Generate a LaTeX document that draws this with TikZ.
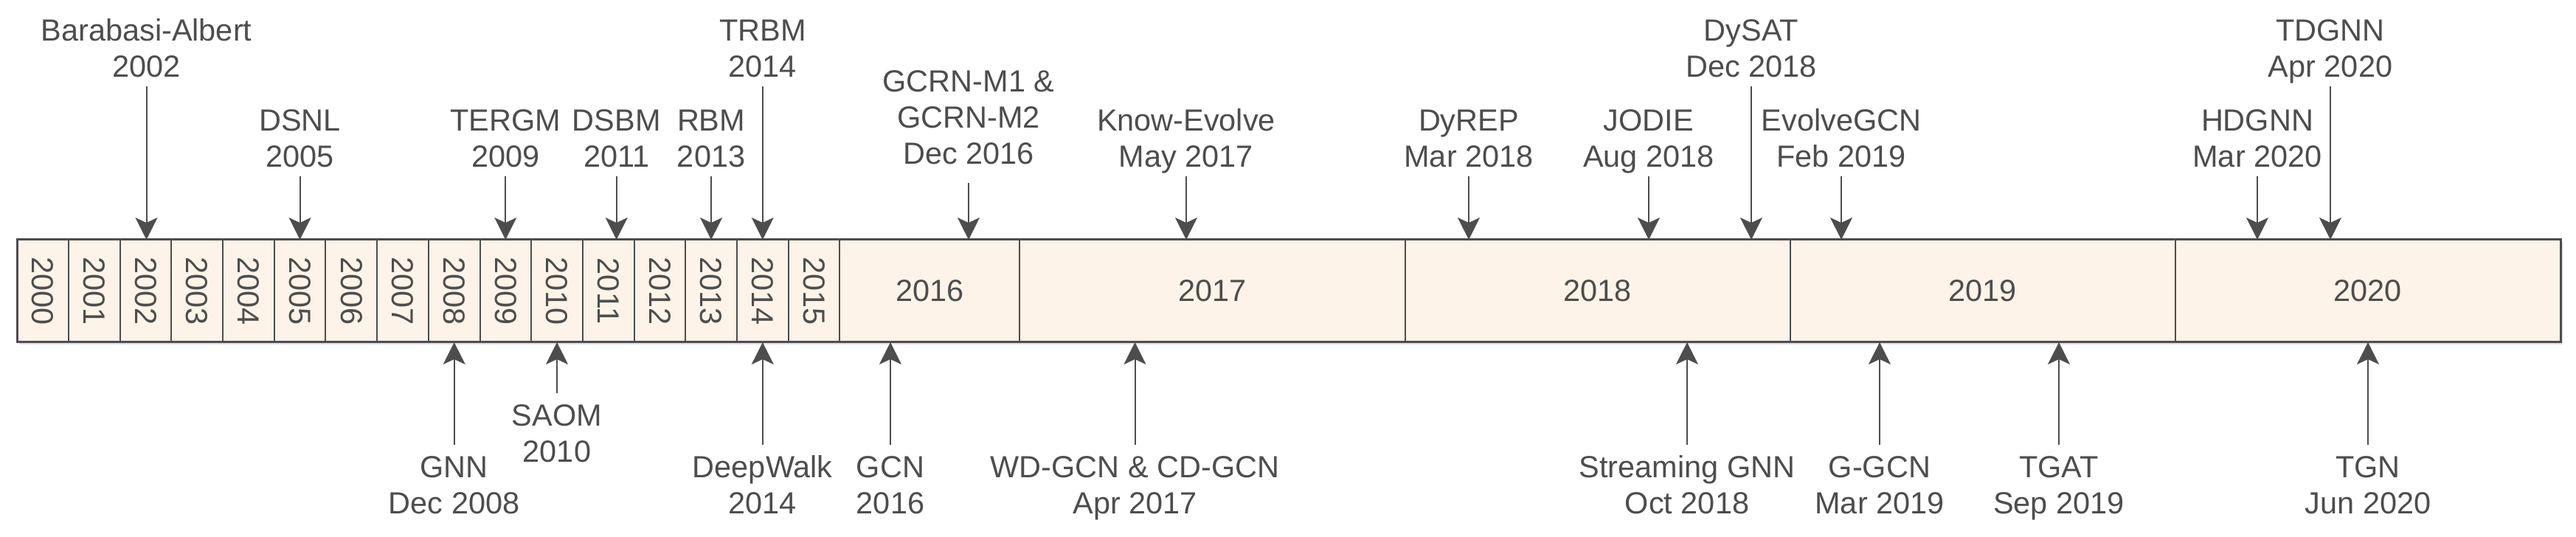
\documentclass[tikz,border=0pt]{standalone}
\usepackage{fontspec}
\setmainfont{Liberation Sans}
\usetikzlibrary{arrows.meta}

\definecolor{linegray}{HTML}{4D4D4D}
\definecolor{cellfill}{HTML}{FEF3E8}

\begin{document}
\begin{tikzpicture}[
  yr/.style={draw=linegray, line width=0.2mm, fill=cellfill, text=linegray, inner sep=0pt, outer sep=0pt, font=\fontsize{11.8}{14}\selectfont},
  vyr/.style={yr, rotate=-90, minimum width=1.39cm, minimum height=6.969mm},
  bigyr/.style={yr, minimum width=5.2218cm, minimum height=1.39cm},
  evt/.style={font=\fontsize{11.8}{13.94}\selectfont, text=linegray, align=center, inner sep=0pt, anchor=base},
  evtup/.style={evt, text depth=1.2mm},
  evtdown/.style={evt, text height=9.25mm},
  arr/.style={-{Stealth[length=3mm, width=3mm, inset=0.7mm]}, line width=0.2mm, draw=linegray}
]
\useasboundingbox (0,0) rectangle (34.92,7.28);

% timeline bar
\fill[black!12] (0.263,2.61) rectangle (34.74,4.0);
\foreach \yy [count=\i from 0] in {2000,...,2015}
  \node[vyr] (c\yy) at ({0.233+0.6969*(\i+0.5)},3.335) {\yy};
\node[yr, minimum width=2.44cm, minimum height=1.39cm] (c2016) at (12.603,3.335) {2016};
\node[bigyr] (c2017) at (16.434,3.335) {2017};
\node[bigyr] (c2018) at (21.656,3.335) {2018};
\node[bigyr] (c2019) at (26.878,3.335) {2019};
\node[bigyr] (c2020) at (32.099,3.335) {2020};
\draw[linegray, line width=0.3mm] (0.233,2.64) rectangle (34.71,4.03);

% models above the bar
\node[evtup] (BA) at (1.985,6.235) {Barabasi-Albert\\2002};
\node[evtup] (DSNL) at (4.066,5.015) {DSNL\\2005};
\node[evtup] (TERGM) at (6.853,5.015) {TERGM\\2009};
\node[evtup] (DSBM) at (8.357,5.015) {DSBM\\2011};
\node[evtup] (RBM) at (9.641,5.015) {RBM\\2013};
\node[evtup] (TRBM) at (10.338,6.235) {TRBM\\2014};
\node[evtup, text depth=2.45mm] (GCRN) at (13.13,5.055) {GCRN-M1 \&\\GCRN-M2\\Dec 2016};
\node[evtup] (KE) at (16.08,5.015) {Know-Evolve\\May 2017};
\node[evtup] (DyREP) at (19.91,5.015) {DyREP\\Mar 2018};
\node[evtup] (JODIE) at (22.35,5.015) {JODIE\\Aug 2018};
\node[evtup] (DySAT) at (23.74,6.235) {DySAT\\Dec 2018};
\node[evtup] (EGCN) at (24.96,5.015) {EvolveGCN\\Feb 2019};
\node[evtup] (HDGNN) at (30.60,5.015) {HDGNN\\Mar 2020};
\node[evtup] (TDGNN) at (31.59,6.235) {TDGNN\\Apr 2020};

\draw[arr] (BA) -- (BA |- c2002.west);
\draw[arr] (DSNL) -- (DSNL |- c2005.west);
\draw[arr] (TERGM) -- (TERGM |- c2009.west);
\draw[arr] (DSBM) -- (DSBM |- c2011.west);
\draw[arr] (RBM) -- (RBM |- c2013.west);
\draw[arr] (TRBM) -- (TRBM |- c2014.west);
\draw[arr] (GCRN) -- (GCRN |- c2016.north);
\draw[arr] (KE) -- (KE |- c2017.north);
\draw[arr] (DyREP) -- (DyREP |- c2018.north);
\draw[arr] (JODIE) -- (JODIE |- c2018.north);
\draw[arr] (DySAT) -- (DySAT |- c2018.north);
\draw[arr] (EGCN) -- (EGCN |- c2019.north);
\draw[arr] (HDGNN) -- (HDGNN |- c2020.north);
\draw[arr] (TDGNN) -- (TDGNN |- c2020.north);

% models below the bar
\node[evtdown] (GNN) at (6.157,0.315) {GNN\\Dec 2008};
\node[evtdown] (SAOM) at (7.55,1.015) {SAOM\\2010};
\node[evtdown] (DW) at (10.338,0.315) {DeepWalk\\2014};
\node[evtdown] (GCN) at (12.07,0.315) {GCN\\2016};
\node[evtdown] (WD) at (15.385,0.315) {WD-GCN \& CD-GCN\\Apr 2017};
\node[evtdown] (SGNN) at (22.87,0.315) {Streaming GNN\\Oct 2018};
\node[evtdown] (GGCN) at (25.48,0.315) {G-GCN\\Mar 2019};
\node[evtdown] (TGAT) at (27.91,0.315) {TGAT\\Sep 2019};
\node[evtdown] (TGN) at (32.10,0.315) {TGN\\Jun 2020};

\draw[arr] (GNN) -- (GNN |- c2008.east);
\draw[arr] (SAOM) -- (SAOM |- c2010.east);
\draw[arr] (DW) -- (DW |- c2014.east);
\draw[arr] (GCN) -- (GCN |- c2016.south);
\draw[arr] (WD) -- (WD |- c2017.south);
\draw[arr] (SGNN) -- (SGNN |- c2018.south);
\draw[arr] (GGCN) -- (GGCN |- c2019.south);
\draw[arr] (TGAT) -- (TGAT |- c2019.south);
\draw[arr] (TGN) -- (TGN |- c2020.south);

\end{tikzpicture}
\end{document}
